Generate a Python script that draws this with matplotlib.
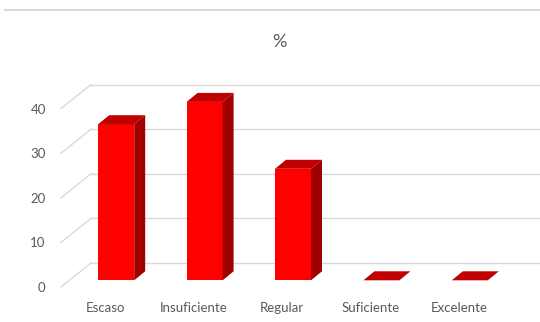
import matplotlib.pyplot as plt
from matplotlib.patches import Polygon
from matplotlib.lines import Line2D

categorias = ['Escaso', 'Insuficiente', 'Regular', 'Suficiente', 'Excelente']
porcentajes = [35, 40, 25, 0, 0]
yticks = [0, 10, 20, 30, 40]

gris = '#595959'
fig = plt.figure(figsize=(5.4, 3.22), dpi=100)
W, H = 540.0, 322.0
# front plane of the 3d box, in pixels
ax = fig.add_axes([61 / W, (H - 287) / H, 442 / W, 178.4 / H])
ax.set_xlim(-0.5, 4.5)
ax.set_ylim(0, 40)
for s in ax.spines.values():
    s.set_visible(False)
ax.tick_params(length=0, colors=gris, labelsize=9.5)
ax.set_xticks(range(len(categorias)))
ax.set_xticklabels(categorias, family='Lato')
ax.set_yticks(yticks)
ax.set_yticklabels([str(t) for t in yticks], family='Lato')
ax.tick_params(axis='y', pad=11)
ax.tick_params(axis='x', pad=11)

# pixel -> data scale
px_x = 442 / 5.0
px_y = 178.4 / 40.0
# wall offset, bar offset and bar depth (dx, dy) in data units
wx, wy = 30 / px_x, 24 / px_y
bx, by = 11 / px_x, 6.7 / px_y
dx, dy = 11 / px_x, 9 / px_y
ancho = 36 / px_x

grid_c = '#d9d9d9'
x_right = ax.get_xlim()[0] + (W - 61) / px_x
for t in yticks:
    ax.plot([-0.5, -0.5 + wx], [t, t + wy], color=grid_c, lw=1, clip_on=False, zorder=1)
    ax.plot([-0.5 + wx, x_right], [t + wy, t + wy], color=grid_c, lw=1, clip_on=False, zorder=1)

xs = [i + bx for i in range(len(categorias))]
ax.bar(xs, porcentajes, width=ancho, bottom=by, color='#ff0000', zorder=3, clip_on=False)
for x, v in zip(xs, porcentajes):
    x0, x1 = x - ancho / 2, x + ancho / 2
    top = by + v
    techo = Polygon([(x0, top), (x1, top), (x1 + dx, top + dy), (x0 + dx, top + dy)],
                    closed=True, color='#c00000', lw=0, zorder=3, clip_on=False)
    ax.add_patch(techo)
    if v > 0:
        lado = Polygon([(x1, by), (x1 + dx, by + dy), (x1 + dx, top + dy), (x1, top)],
                       closed=True, color='#a00000', lw=0, zorder=3, clip_on=False)
        ax.add_patch(lado)

fig.text(279 / W, 1 - 42 / H, '%', ha='center', va='center', fontsize=13,
         color=gris, family='Lato')
fig.add_artist(Line2D([5 / W, 1], [1 - 9.5 / H, 1 - 9.5 / H], color='#d9d9d9', lw=1.5))

fig.savefig('out.png', dpi=100)
